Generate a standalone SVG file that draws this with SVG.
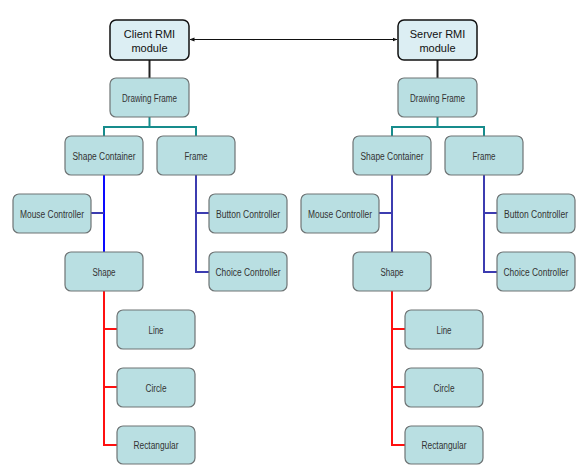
<svg xmlns="http://www.w3.org/2000/svg" width="584" height="473" viewBox="0 0 584 473">
<defs>
<style>
.mod rect{fill:#dceef3;stroke:#111;stroke-width:1.5}
.mod text{font-family:"Liberation Sans",Arial,sans-serif;font-size:11px;fill:#111;text-anchor:middle}
.n rect{fill:#b9dfe2;stroke:#6e7475;stroke-width:1.2}
.n text{font-family:"Liberation Sans",Arial,sans-serif;font-size:10px;fill:#333;text-anchor:middle}
.c{fill:none;stroke-width:2}
.k{stroke:#222}
.t{stroke:#178c8c}
.b{stroke:#0a0aff}
.nv{stroke:#3c3cb0}
.r{stroke:#ff1010}
</style>
<marker id="ah" viewBox="0 0 10 10" refX="9" refY="5" markerWidth="5" markerHeight="5" orient="auto-start-reverse">
<path d="M0,1 L10,5 L0,9 z" fill="#111"/>
</marker>
</defs>
<rect width="584" height="473" fill="#fff"/>
<g id="connectors">
<line x1="190" y1="39.5" x2="397" y2="39.5" stroke="#111" stroke-width="1" marker-start="url(#ah)" marker-end="url(#ah)"/>
<path class="c k" d="M149.5,60 V78"/>
<path class="c t" d="M149.5,117 V127 M104,136 V127 H196 V136"/>
<path class="c b" d="M104,175 V252"/>
<path class="c nv" d="M91,213 H104"/>
<path class="c nv" d="M196,175 V272 H209 M196,213 H209"/>
<path class="c r" d="M104,291 V445 H117 M104,329 H117 M104,387 H117"/>
<path class="c k" d="M437.5,60 V78"/>
<path class="c t" d="M437.5,117 V127 M392,136 V127 H484 V136"/>
<path class="c nv" d="M392,175 V252 M379,213 H392"/>
<path class="c nv" d="M484,175 V272 H497 M484,213 H497"/>
<path class="c r" d="M392,291 V445 H405 M392,329 H405 M392,387 H405"/>
</g>
<g id="client-rmi" class="mod"><rect x="110" y="20" width="79" height="40" rx="6"/><text x="149.5" y="38">Client RMI</text><text x="149.5" y="52">module</text></g>
<g id="drawing-frame-l" class="n"><rect x="110" y="78" width="79" height="39" rx="6"/><text x="149.5" y="101.5" textLength="55" lengthAdjust="spacingAndGlyphs">Drawing Frame</text></g>
<g id="shape-container-l" class="n"><rect x="65" y="136" width="78" height="39" rx="6"/><text x="104" y="159.5" textLength="63" lengthAdjust="spacingAndGlyphs">Shape Container</text></g>
<g id="frame-l" class="n"><rect x="157" y="136" width="78" height="39" rx="6"/><text x="196" y="159.5" textLength="23" lengthAdjust="spacingAndGlyphs">Frame</text></g>
<g id="mouse-controller-l" class="n"><rect x="13" y="194" width="78" height="39" rx="6"/><text x="52" y="217.5" textLength="64" lengthAdjust="spacingAndGlyphs">Mouse Controller</text></g>
<g id="button-controller-l" class="n"><rect x="209" y="194" width="78" height="39" rx="6"/><text x="248" y="217.5" textLength="64" lengthAdjust="spacingAndGlyphs">Button Controller</text></g>
<g id="choice-controller-l" class="n"><rect x="209" y="252" width="78" height="39" rx="6"/><text x="248" y="275.5" textLength="65" lengthAdjust="spacingAndGlyphs">Choice Controller</text></g>
<g id="shape-l" class="n"><rect x="65" y="252" width="78" height="39" rx="6"/><text x="104" y="275.5" textLength="23" lengthAdjust="spacingAndGlyphs">Shape</text></g>
<g id="line-l" class="n"><rect x="117" y="310" width="78" height="39" rx="6"/><text x="156" y="333.5" textLength="15" lengthAdjust="spacingAndGlyphs">Line</text></g>
<g id="circle-l" class="n"><rect x="117" y="368" width="78" height="39" rx="6"/><text x="156" y="391.5" textLength="21" lengthAdjust="spacingAndGlyphs">Circle</text></g>
<g id="rectangular-l" class="n"><rect x="117" y="426" width="78" height="38" rx="6"/><text x="156" y="449" textLength="45" lengthAdjust="spacingAndGlyphs">Rectangular</text></g>
<g id="server-rmi" class="mod"><rect x="398" y="20" width="79" height="40" rx="6"/><text x="437.5" y="38">Server RMI</text><text x="437.5" y="52">module</text></g>
<g id="drawing-frame-r" class="n"><rect x="398" y="78" width="79" height="39" rx="6"/><text x="437.5" y="101.5" textLength="55" lengthAdjust="spacingAndGlyphs">Drawing Frame</text></g>
<g id="shape-container-r" class="n"><rect x="353" y="136" width="78" height="39" rx="6"/><text x="392" y="159.5" textLength="63" lengthAdjust="spacingAndGlyphs">Shape Container</text></g>
<g id="frame-r" class="n"><rect x="445" y="136" width="78" height="39" rx="6"/><text x="484" y="159.5" textLength="23" lengthAdjust="spacingAndGlyphs">Frame</text></g>
<g id="mouse-controller-r" class="n"><rect x="301" y="194" width="78" height="39" rx="6"/><text x="340" y="217.5" textLength="64" lengthAdjust="spacingAndGlyphs">Mouse Controller</text></g>
<g id="button-controller-r" class="n"><rect x="497" y="194" width="78" height="39" rx="6"/><text x="536" y="217.5" textLength="64" lengthAdjust="spacingAndGlyphs">Button Controller</text></g>
<g id="choice-controller-r" class="n"><rect x="497" y="252" width="78" height="39" rx="6"/><text x="536" y="275.5" textLength="65" lengthAdjust="spacingAndGlyphs">Choice Controller</text></g>
<g id="shape-r" class="n"><rect x="353" y="252" width="78" height="39" rx="6"/><text x="392" y="275.5" textLength="23" lengthAdjust="spacingAndGlyphs">Shape</text></g>
<g id="line-r" class="n"><rect x="405" y="310" width="78" height="39" rx="6"/><text x="444" y="333.5" textLength="15" lengthAdjust="spacingAndGlyphs">Line</text></g>
<g id="circle-r" class="n"><rect x="405" y="368" width="78" height="39" rx="6"/><text x="444" y="391.5" textLength="21" lengthAdjust="spacingAndGlyphs">Circle</text></g>
<g id="rectangular-r" class="n"><rect x="405" y="426" width="78" height="38" rx="6"/><text x="444" y="449" textLength="45" lengthAdjust="spacingAndGlyphs">Rectangular</text></g>
</svg>
